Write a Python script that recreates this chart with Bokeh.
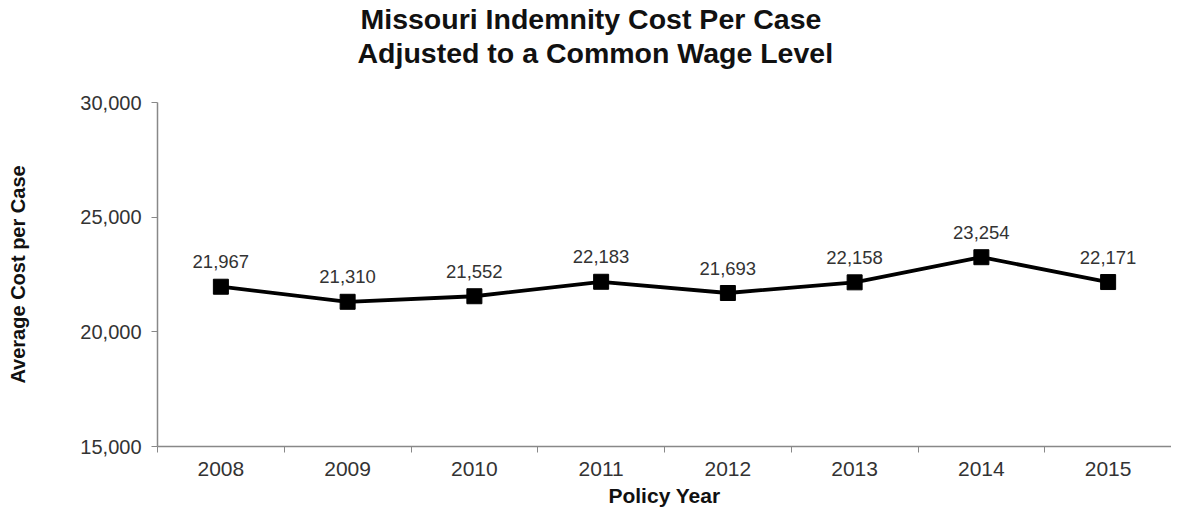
from bokeh.plotting import figure
from bokeh.models import ColumnDataSource, LabelSet, Title, FixedTicker, Range1d
from bokeh.core.properties import value
from bokeh.embed import file_html
from bokeh.resources import INLINE

years = ["2008", "2009", "2010", "2011", "2012", "2013", "2014", "2015"]
costs = [21967, 21310, 21552, 22183, 21693, 22158, 23254, 22171]
y_ticks = [15000, 20000, 25000, 30000]
title_lines = ["Missouri Indemnity Cost Per Case", "Adjusted to a Common Wage Level"]

xs = [i + 0.5 for i in range(len(years))]
src = ColumnDataSource(dict(x=xs, y=costs, lab=[f"{v:,}" for v in costs]))

FONT = "Liberation Sans"
W, H = 1171, 509
LEFT, TOP, BOTTOM = 157, 101, 63

p = figure(width=W, height=H, output_backend="svg", toolbar_location=None,
           x_range=Range1d(0, len(years)), y_range=Range1d(15000, 30000),
           min_border_left=LEFT, min_border_right=0, min_border_top=TOP, min_border_bottom=BOTTOM)
p.title.visible = False

# spacer between the title block and the plot frame
p.add_layout(Title(text=" ", text_font=FONT, text_font_size="28.5px", standoff=0), "above")
# title lines (added inner-first), left-aligned with an offset so the block is centred on the page
for line, off in zip(reversed(title_lines), [200, 203]):
    p.add_layout(Title(text=line, align="left", offset=off, text_font=FONT,
                       text_font_size="28.5px", text_font_style="bold", text_color="#111111",
                       standoff=0), "above")

p.outline_line_color = None
p.grid.visible = False
p.background_fill_color = "white"
p.border_fill_color = "white"

p.line("x", "y", source=src, line_color="black", line_width=3.8)
p.scatter("x", "y", source=src, marker="square", size=15, fill_color="black", line_color="black")

labels = LabelSet(x="x", y="y", text="lab", source=src, text_align="center", text_baseline="middle",
                  y_offset=25, text_font=value(FONT), text_font_size="18.5px", text_color="#333333")
p.add_layout(labels)

# y axis
ya = p.yaxis[0]
ya.ticker = FixedTicker(ticks=y_ticks, minor_ticks=[])
ya.major_label_overrides = {t: f"{t:,}" for t in y_ticks}
ya.axis_line_color = "#888888"
ya.axis_line_width = 1.5
ya.major_tick_line_color = "#888888"
ya.major_tick_out = 6
ya.major_tick_in = 0
ya.major_label_text_font = FONT
ya.major_label_text_font_size = "20px"
ya.major_label_text_color = "#333333"
ya.major_label_standoff = 10
ya.axis_label = "Average Cost per Case"
ya.axis_label_text_font = FONT
ya.axis_label_text_font_size = "20px"
ya.axis_label_text_font_style = "bold"
ya.axis_label_text_color = "#111111"
ya.axis_label_standoff = 48

# x axis: labels at category centers, ticks at boundaries
xa = p.xaxis[0]
xa.ticker = FixedTicker(ticks=xs, minor_ticks=list(range(len(years) + 1)))
xa.major_label_overrides = {x: y for x, y in zip(xs, years)}
xa.axis_line_color = "#888888"
xa.axis_line_width = 1.5
xa.major_tick_out = 0
xa.major_tick_in = 0
xa.minor_tick_out = 6
xa.minor_tick_in = 0
xa.minor_tick_line_color = "#888888"
xa.major_label_text_font = FONT
xa.major_label_text_font_size = "21px"
xa.major_label_text_color = "#333333"
xa.major_label_standoff = 9
xa.axis_label = "Policy Year"
xa.axis_label_text_font = FONT
xa.axis_label_text_font_size = "21px"
xa.axis_label_text_font_style = "bold"
xa.axis_label_text_color = "#111111"
xa.axis_label_standoff = 5

open("out.html", "w").write(file_html(p, INLINE))
